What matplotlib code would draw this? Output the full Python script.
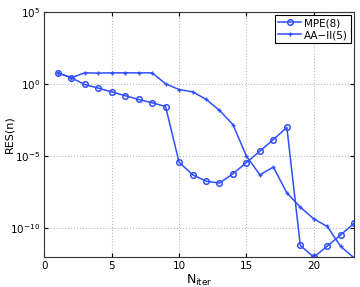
import matplotlib
matplotlib.use('Agg')
import matplotlib.pyplot as plt
import numpy as np

n_iter = np.arange(1, 24)
# log10 of residuals
mpe_log = [0.76, 0.42, -0.05, -0.30, -0.56, -0.83, -1.09, -1.32, -1.58, -5.44,
           -6.32, -6.76, -6.90, -6.25, -5.47, -4.68, -3.87, -3.03, -11.23, -12.04,
           -11.27, -10.49, -9.68]
aa_log = [0.76, 0.42, 0.76, 0.74, 0.76, 0.76, 0.76, 0.76, 0.0, -0.40,
          -0.56, -1.07, -1.85, -2.83, -5.03, -6.32, -5.79, -7.57, -8.57, -9.38,
          -9.91, -11.30, -12.10]

mpe = 10.0 ** np.array(mpe_log)
aa = 10.0 ** np.array(aa_log)

blue = '#3050ff'

fig = plt.figure(figsize=(3.6, 2.87), dpi=100)
ax = fig.add_axes([0.123, 0.106, 0.861, 0.853])

ax.semilogy(n_iter, mpe, '-o', color=blue, lw=1.1, ms=4, mfc='none', mew=1.1,
            label='MPE(8)')
ax.semilogy(n_iter, aa, '-+', color=blue, lw=1.1, ms=3.5, mew=1.0,
            label='AA\u2212II(5)')

ax.set_xlim(0, 23)
ax.set_ylim(1e-12, 1e5)
ax.set_xticks([0, 5, 10, 15, 20])
ax.set_yticks([1e-10, 1e-5, 1e0, 1e5])
ax.minorticks_off()
ax.tick_params(direction='in', labelsize=7.5, length=3, top=True, right=True, pad=3)
ax.grid(True, linestyle=':', color='#bbbbbb', lw=0.8)
for s in ax.spines.values():
    s.set_linewidth(0.8)
    s.set_color('#333333')

ax.set_xlabel('$\\mathregular{N_{iter}}$', fontsize=9)
ax.xaxis.set_label_coords(0.5, -0.065)
ax.set_ylabel('RES(n)', fontsize=8)
ax.yaxis.set_label_coords(-0.095, 0.5)

leg = ax.legend(loc='upper right', fontsize=7.5, fancybox=False, framealpha=1,
                edgecolor='black', borderpad=0.3, handlelength=2.2,
                handletextpad=0.3, labelspacing=0.2, borderaxespad=0.3)
leg.get_frame().set_linewidth(0.8)

fig.savefig('out.png', dpi=100)
